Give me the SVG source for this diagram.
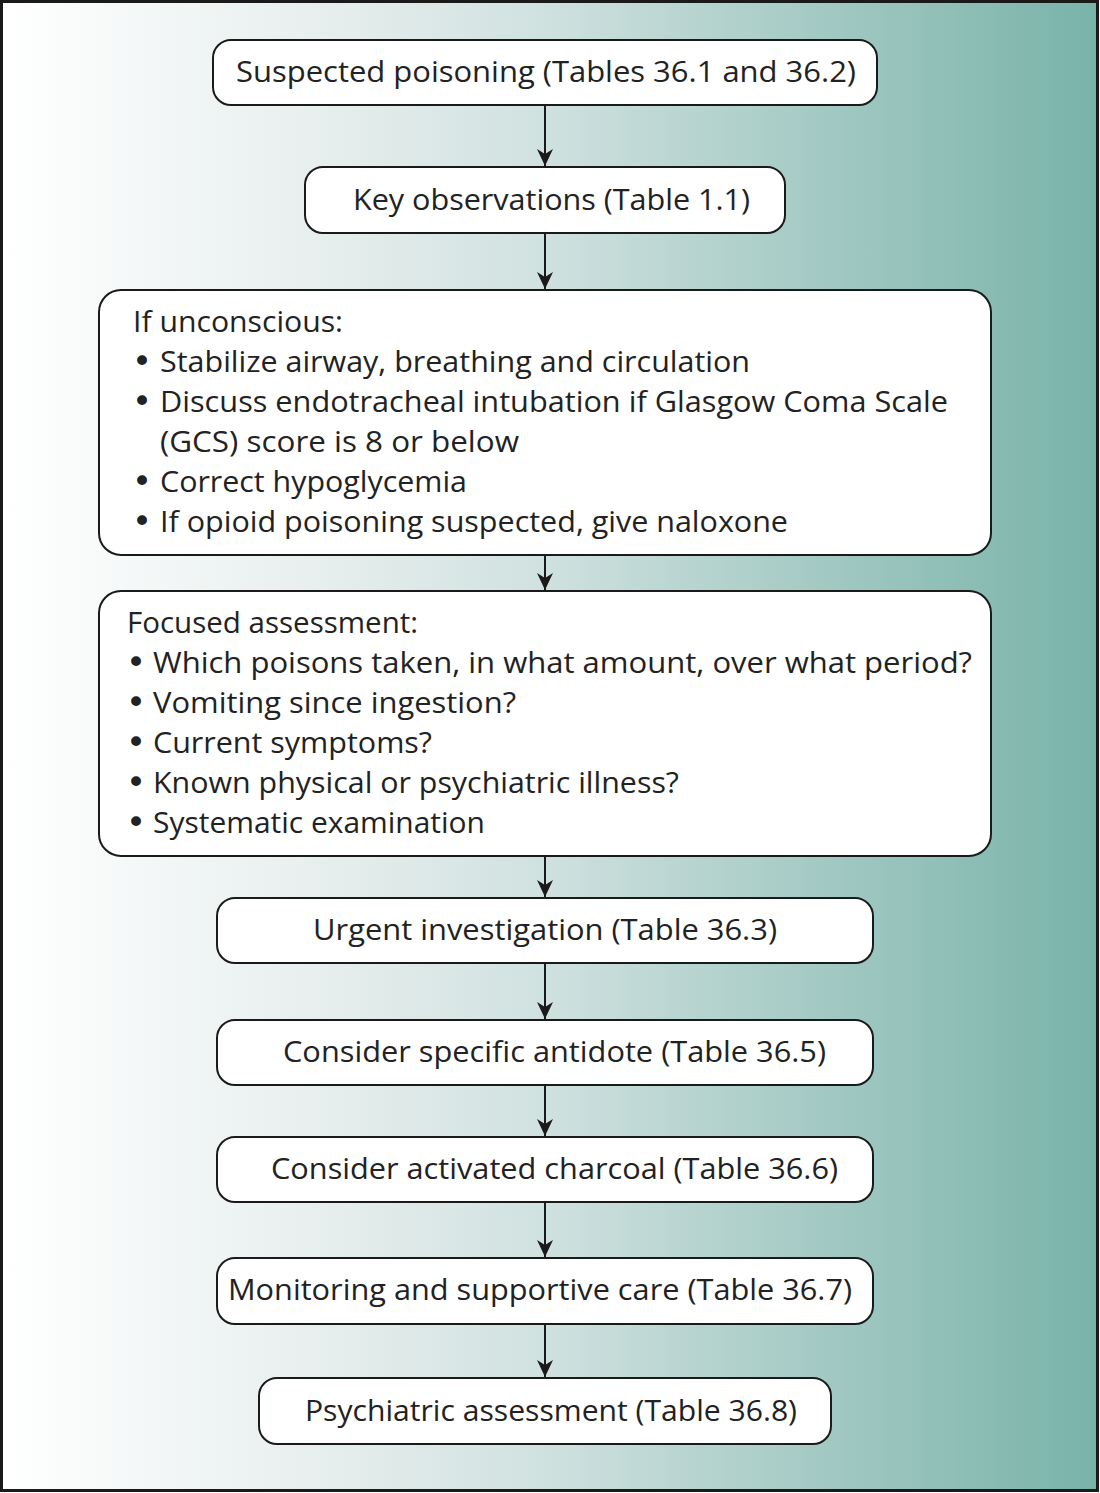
<svg xmlns="http://www.w3.org/2000/svg" width="1100" height="1493" viewBox="0 0 1100 1493">
<defs>
<linearGradient id="bg" x1="0" y1="0" x2="1" y2="0">
<stop offset="0" stop-color="#ffffff"/>
<stop offset="0.3" stop-color="#e6eeed"/>
<stop offset="0.5" stop-color="#cfe1df"/>
<stop offset="0.75" stop-color="#a3c9c3"/>
<stop offset="1" stop-color="#78b3a9"/>
</linearGradient>
<marker id="ah" markerWidth="20" markerHeight="20" refX="17" refY="8" orient="auto" markerUnits="userSpaceOnUse">
<path d="M0,0 L17,8 L0,16 L5,8 Z" fill="#1a1a1a"/>
</marker>
<style>
.box{fill:#ffffff;stroke:#1a1a1a;stroke-width:2}
.t{font-family:"Open Sans","Noto Sans","DejaVu Sans",sans-serif;font-size:30px;fill:#222}
.b{font-family:"DejaVu Sans",sans-serif;font-size:34px;fill:#222}
.c{stroke:#1a1a1a;stroke-width:2;fill:none;marker-end:url(#ah)}
</style>
</defs>
<rect x="1.5" y="1.5" width="1096" height="1489" fill="url(#bg)" stroke="#1a1a1a" stroke-width="3"/>
<g id="connectors">
<line class="c" x1="545" y1="105" x2="545" y2="166"/>
<line class="c" x1="545" y1="233" x2="545" y2="289"/>
<line class="c" x1="545" y1="555" x2="545" y2="590"/>
<line class="c" x1="545" y1="856" x2="545" y2="897"/>
<line class="c" x1="545" y1="963" x2="545" y2="1019"/>
<line class="c" x1="545" y1="1085" x2="545" y2="1136"/>
<line class="c" x1="545" y1="1202" x2="545" y2="1257"/>
<line class="c" x1="545" y1="1324" x2="545" y2="1377"/>
</g>
<g id="n1">
<rect class="box" x="213" y="40" width="664" height="65" rx="18"/>
<text class="t" x="236" y="82" textLength="620" lengthAdjust="spacingAndGlyphs">Suspected poisoning (Tables 36.1 and 36.2)</text>
</g>
<g id="n2">
<rect class="box" x="305" y="167" width="480" height="66" rx="18"/>
<text class="t" x="353" y="210" textLength="397" lengthAdjust="spacingAndGlyphs">Key observations (Table 1.1)</text>
</g>
<g id="n3">
<rect class="box" x="99" y="290" width="892" height="265" rx="22"/>
<text class="t" x="133" y="332" textLength="210" lengthAdjust="spacingAndGlyphs">If unconscious:</text>
<text class="b" x="132" y="373">•</text><text class="t" x="160" y="372" textLength="590" lengthAdjust="spacingAndGlyphs">Stabilize airway, breathing and circulation</text>
<text class="b" x="132" y="413">•</text><text class="t" x="160" y="412" textLength="788" lengthAdjust="spacingAndGlyphs">Discuss endotracheal intubation if Glasgow Coma Scale</text>
<text class="t" x="160" y="452" textLength="359" lengthAdjust="spacingAndGlyphs">(GCS) score is 8 or below</text>
<text class="b" x="132" y="493">•</text><text class="t" x="160" y="492" textLength="307" lengthAdjust="spacingAndGlyphs">Correct hypoglycemia</text>
<text class="b" x="132" y="533">•</text><text class="t" x="160" y="532" textLength="628" lengthAdjust="spacingAndGlyphs">If opioid poisoning suspected, give naloxone</text>
</g>
<g id="n4">
<rect class="box" x="99" y="591" width="892" height="265" rx="22"/>
<text class="t" x="127" y="633" textLength="291" lengthAdjust="spacingAndGlyphs">Focused assessment:</text>
<text class="b" x="126" y="674">•</text><text class="t" x="153" y="673" textLength="819" lengthAdjust="spacingAndGlyphs">Which poisons taken, in what amount, over what period?</text>
<text class="b" x="126" y="714">•</text><text class="t" x="153" y="713" textLength="363" lengthAdjust="spacingAndGlyphs">Vomiting since ingestion?</text>
<text class="b" x="126" y="754">•</text><text class="t" x="153" y="753" textLength="279" lengthAdjust="spacingAndGlyphs">Current symptoms?</text>
<text class="b" x="126" y="794">•</text><text class="t" x="153" y="793" textLength="526" lengthAdjust="spacingAndGlyphs">Known physical or psychiatric illness?</text>
<text class="b" x="126" y="834">•</text><text class="t" x="153" y="833" textLength="332" lengthAdjust="spacingAndGlyphs">Systematic examination</text>
</g>
<g id="n5">
<rect class="box" x="217" y="898" width="656" height="65" rx="18"/>
<text class="t" x="313" y="940" textLength="464" lengthAdjust="spacingAndGlyphs">Urgent investigation (Table 36.3)</text>
</g>
<g id="n6">
<rect class="box" x="217" y="1020" width="656" height="65" rx="18"/>
<text class="t" x="283" y="1062" textLength="543" lengthAdjust="spacingAndGlyphs">Consider specific antidote (Table 36.5)</text>
</g>
<g id="n7">
<rect class="box" x="217" y="1137" width="656" height="65" rx="18"/>
<text class="t" x="271" y="1179" textLength="567" lengthAdjust="spacingAndGlyphs">Consider activated charcoal (Table 36.6)</text>
</g>
<g id="n8">
<rect class="box" x="217" y="1258" width="656" height="66" rx="18"/>
<text class="t" x="228" y="1300" textLength="624" lengthAdjust="spacingAndGlyphs">Monitoring and supportive care (Table 36.7)</text>
</g>
<g id="n9">
<rect class="box" x="259" y="1378" width="572" height="66" rx="18"/>
<text class="t" x="305" y="1421" textLength="492" lengthAdjust="spacingAndGlyphs">Psychiatric assessment (Table 36.8)</text>
</g>
</svg>
